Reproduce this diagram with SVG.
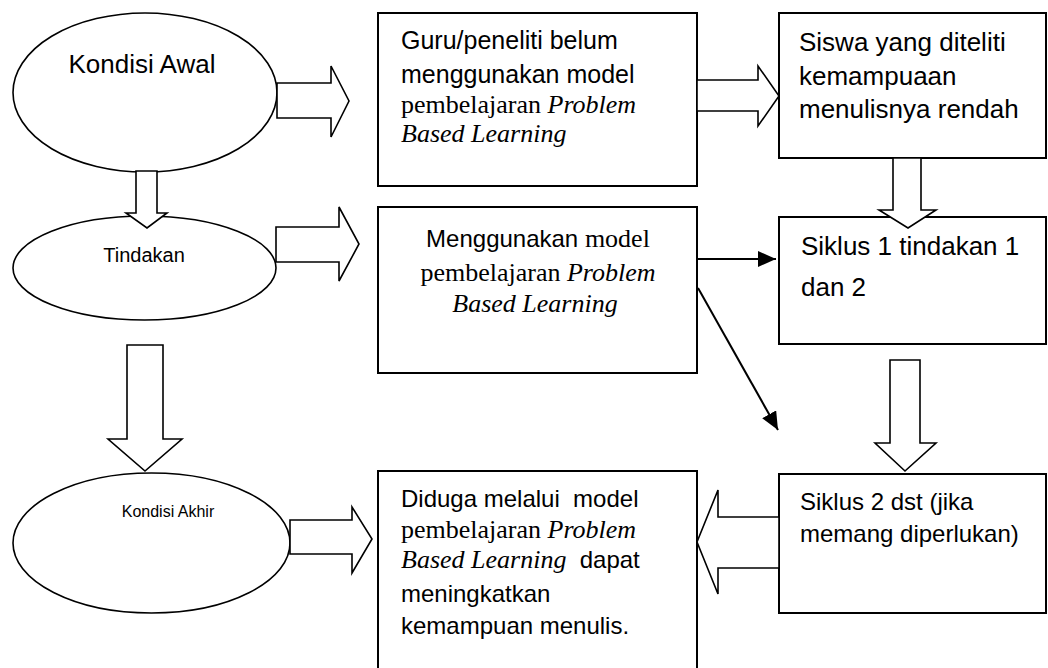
<svg xmlns="http://www.w3.org/2000/svg" width="1048" height="668" viewBox="0 0 1048 668">
<style>
.box{fill:#fff;stroke:#000;stroke-width:2}
.ell{fill:#fff;stroke:#000;stroke-width:1.6}
.blk{fill:#fff;stroke:#000;stroke-width:1.6;stroke-linejoin:miter}
.ln{fill:none;stroke:#000;stroke-width:2}
.s{font-family:"Liberation Sans",Arial,sans-serif;fill:#000}
.t{font-family:"Liberation Serif","Times New Roman",serif;fill:#000}
.i{font-style:italic}
</style>
<defs>
<marker id="ah" viewBox="0 0 18 16" refX="18" refY="8" markerWidth="18" markerHeight="16" markerUnits="userSpaceOnUse" orient="auto">
<path d="M0,0 L18,8 L0,16 z" fill="#000"/>
</marker>
</defs>
<rect width="1048" height="668" fill="#fff"/>

<g id="kondisi-awal">
<ellipse class="ell" cx="145" cy="92.5" rx="132" ry="79.5"/>
<text class="s" x="142" y="73" font-size="26" text-anchor="middle">Kondisi Awal</text>
</g>

<g id="tindakan">
<ellipse class="ell" cx="144.5" cy="268" rx="131.5" ry="52"/>
<text class="s" x="144" y="262" font-size="20" text-anchor="middle">Tindakan</text>
</g>

<g id="kondisi-akhir">
<ellipse class="ell" cx="151.5" cy="543" rx="138.5" ry="70"/>
<text class="s" x="168" y="517" font-size="16" text-anchor="middle">Kondisi Akhir</text>
</g>

<g id="guru">
<rect class="box" x="378" y="13" width="319" height="173"/>
<text class="s" x="401" y="49" font-size="25">Guru/peneliti belum</text>
<text class="s" x="401" y="83" font-size="25">menggunakan model</text>
<text class="t" x="401" y="113" font-size="26">pembelajaran <tspan class="i">Problem</tspan></text>
<text class="t i" x="401" y="142" font-size="26">Based Learning</text>
</g>

<g id="menggunakan">
<rect class="box" x="378" y="207" width="319" height="166"/>
<text x="538" y="247" text-anchor="middle"><tspan class="s" font-size="24">Menggunakan </tspan><tspan class="t" font-size="26">model</tspan></text>
<text class="t" x="538" y="281" font-size="26" text-anchor="middle">pembelajaran <tspan class="i">Problem</tspan></text>
<text class="t i" x="535" y="312" font-size="26" text-anchor="middle">Based Learning</text>
</g>

<g id="diduga">
<rect class="box" x="378" y="471" width="319" height="205"/>
<text class="s" x="401" y="507" font-size="24" style="white-space:pre">Diduga melalui  model</text>
<text class="t" x="401" y="538" font-size="26">pembelajaran <tspan class="i">Problem</tspan></text>
<text x="401" y="568" style="white-space:pre"><tspan class="t i" font-size="26">Based Learning</tspan><tspan class="s" font-size="24">  dapat</tspan></text>
<text class="s" x="401" y="602" font-size="24">meningkatkan</text>
<text class="s" x="401" y="634" font-size="24">kemampuan menulis.</text>
</g>

<g id="siswa">
<rect class="box" x="779" y="13" width="267" height="145"/>
<text class="s" x="799" y="51" font-size="26">Siswa yang diteliti</text>
<text class="s" x="799" y="85" font-size="26">kemampuaan</text>
<text class="s" x="799" y="118" font-size="26">menulisnya rendah</text>
</g>

<g id="siklus1">
<rect class="box" x="779" y="217" width="267" height="127"/>
<text class="s" x="801" y="255" font-size="26">Siklus 1 tindakan 1</text>
<text class="s" x="801" y="296" font-size="26">dan 2</text>
</g>

<g id="siklus2">
<rect class="box" x="779" y="474" width="267" height="139"/>
<text class="s" x="800" y="510" font-size="24">Siklus 2 dst (jika</text>
<text class="s" x="800" y="542" font-size="24">memang diperlukan)</text>
</g>

<g id="connectors">
<polygon class="blk" points="277,83 331,83 331,66 349,101 331,137 331,118 277,118"/>
<polygon class="blk" points="697,80 758,80 758,66 779,96 758,126 758,111 697,111"/>
<polygon class="blk" points="276,227 339,227 339,207 359,244 339,281 339,262 276,262"/>
<polygon class="blk" points="290,520 352,520 352,507 372,539 352,573 352,554 290,554"/>
<polygon class="blk" points="779,517 718,517 718,490 697,542 718,594 718,568 779,568"/>
<polygon class="blk" points="136,171 157,171 157,213 167,213 147,228 126,213 136,213"/>
<polygon class="blk" points="127,345 163,345 163,439 182,439 145,471 108,439 127,439"/>
<polygon class="blk" points="893,158 921,158 921,210 936,210 908,228 879,210 893,210"/>
<polygon class="blk" points="890,360 920,360 920,443 936,443 905,471 875,443 890,443"/>
<line class="ln" x1="697" y1="259" x2="776" y2="259" marker-end="url(#ah)"/>
<line class="ln" x1="698" y1="288" x2="778" y2="430" marker-end="url(#ah)"/>
</g>
</svg>
